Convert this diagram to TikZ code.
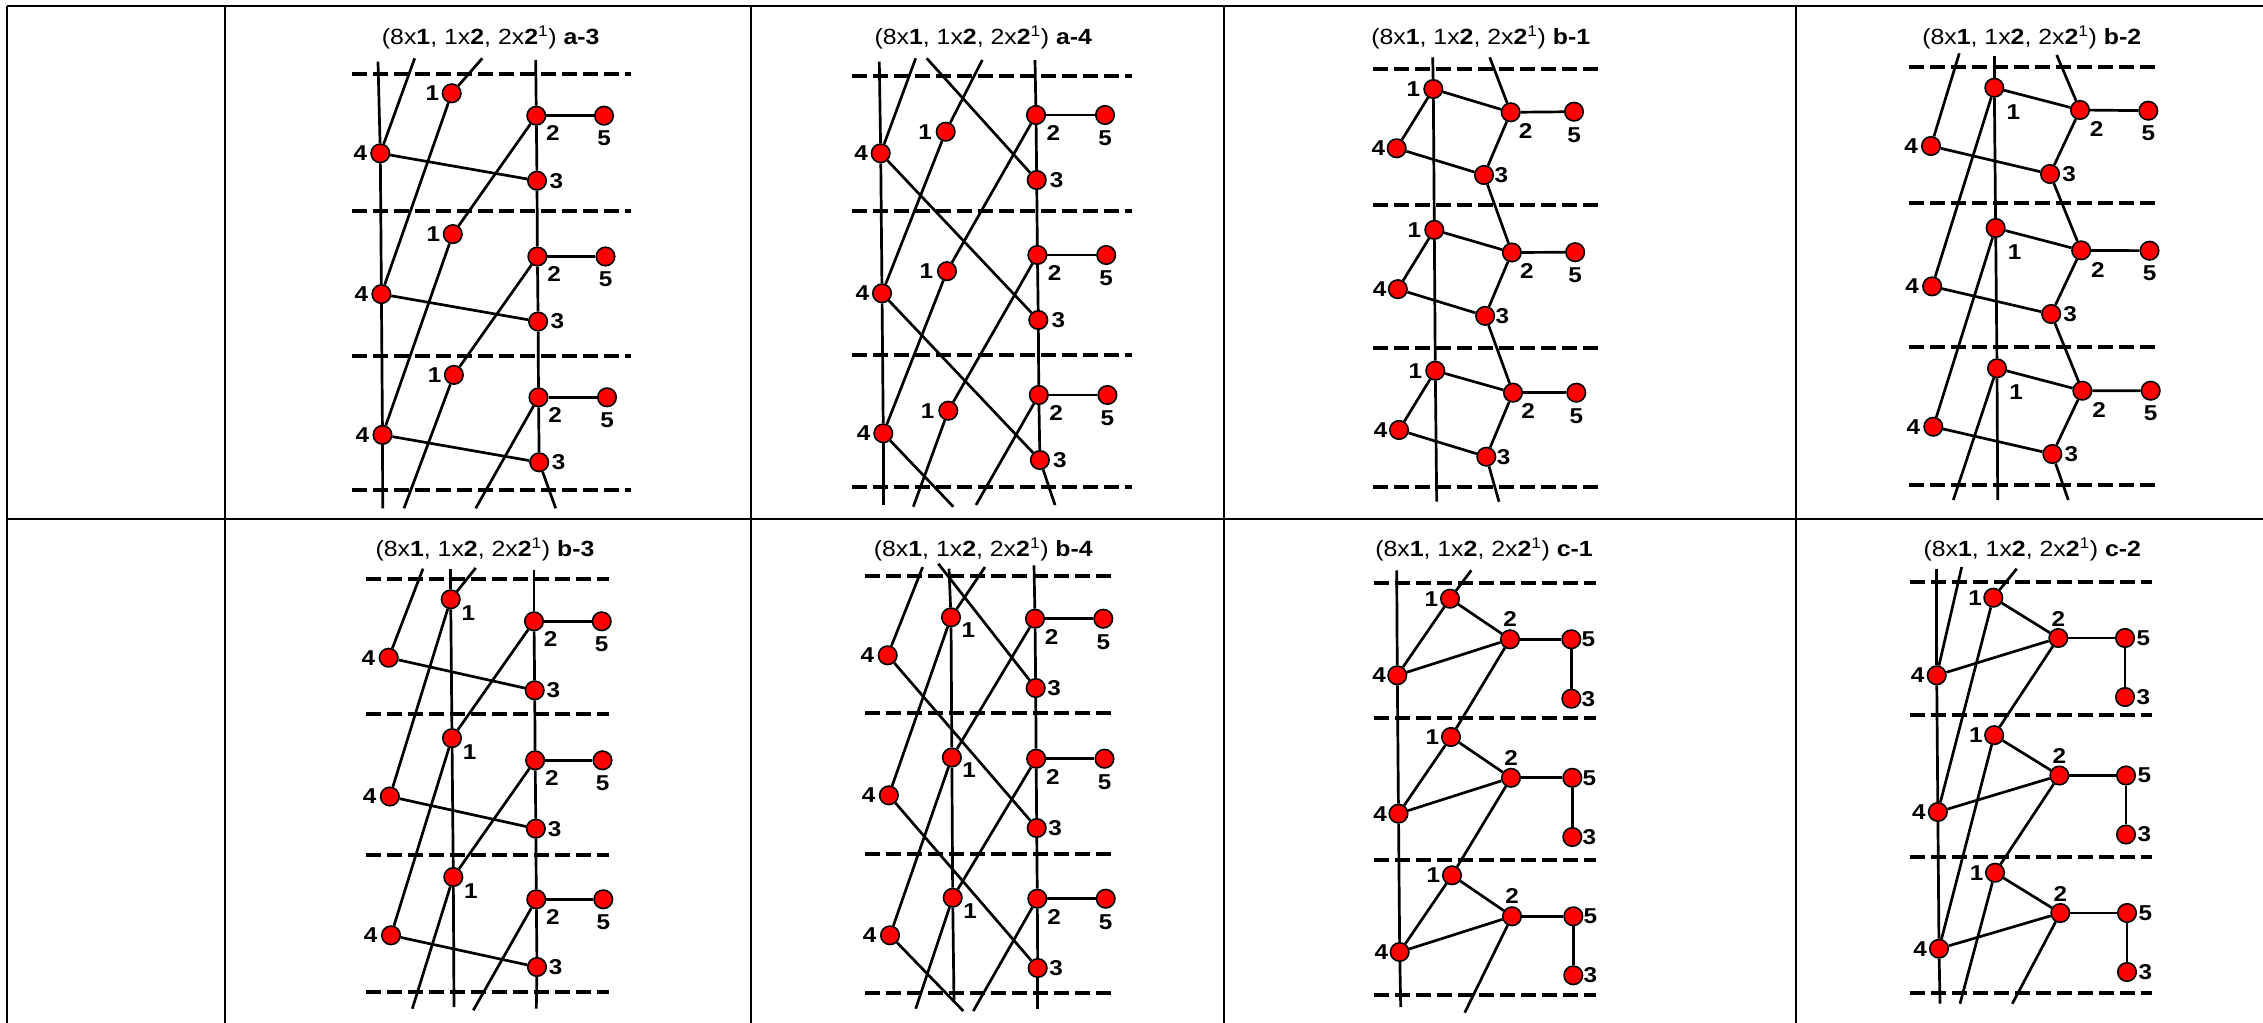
\documentclass[tikz,border=0pt]{standalone}
\usepackage{fontspec}
\setmainfont{Liberation Sans}
\usetikzlibrary{calc}
\pgfdeclarelayer{bg}
\pgfsetlayers{bg,main}
\newcommand\hs[1]{\scalebox{1.13}[1]{#1}}
\newcommand\ttl[1]{\hs{(8x\textbf{1}, 1x\textbf{2}, 2x\textbf{2}\textsuperscript{1}) \textbf{#1}}}
\newcommand\mkcol[6]{\foreach \k in {1,2,3}{\node[vtx] (#1-#2-\k) at ({#3+#5*(\k-1)},{#4+#6*(\k-1)}) {};}}
\newcommand\lbl[4]{\foreach \k in {1,2,3}{\node[lbl] at ($(#1-#2-\k)+(#3,#4)$) {\hs{#2}};}}
\newcommand\sm[3]{\foreach \k in {1,2,3}{\draw[bond] (#1-#2-\k) -- (#1-#3-\k);}}
\newcommand\nx[3]{\foreach \k/\j in {1/2,2/3}{\draw[bond] (#1-#2-\k) -- (#1-#3-\j);}}
\newcommand\stb[4]{\coordinate (#2) at (#3,#4); \draw[bond] (#1) -- (#2);}
\newcommand\dsh[4]{\foreach \yy in {#4}{\draw[dsh] (#2,\yy) -- (#3,\yy);}}
\begin{document}
\begin{tikzpicture}[x=1pt,y=-1pt,
  vtx/.style={circle,fill=red,draw=black,line width=1.6pt,minimum size=18.5pt,inner sep=0pt},
  lbl/.style={font=\fontsize{21.5}{22}\selectfont\bfseries,inner sep=0pt},
  ttlst/.style={font=\fontsize{22}{24}\selectfont,inner sep=0pt},
  bond/.style={line width=2.7pt},
  dsh/.style={line width=3.8pt,dash pattern=on 15pt off 6pt},
  tbl/.style={line width=2pt}]
\useasboundingbox (0,0) rectangle (2263,1023);
\begin{pgfonlayer}{bg}
\fill[white] (0,0) rectangle (2263,1023);
\end{pgfonlayer}
% table
\draw[tbl] (7,6) -- (2263,6);
\draw[tbl] (7,518.7) -- (2263,518.7);
\foreach \xx in {7,224.5,751,1223.5,1795.8}{\draw[tbl] (\xx,6) -- (\xx,1023);}
% titles
\node[ttlst] (TA) at (490.7,37.3) {\ttl{a-3}};
\node[ttlst] (TB) at (983.3,37.3) {\ttl{a-4}};
\node[ttlst] (TC) at (1480.7,37.3) {\ttl{b-1}};
\node[ttlst] (TD) at (2031.7,37.3) {\ttl{b-2}};
\node[ttlst] (TE) at (485,549.3) {\ttl{b-3}};
\node[ttlst] (TF) at (983.3,549.3) {\ttl{b-4}};
\node[ttlst] (TG) at (1484,549.3) {\ttl{c-1}};
\node[ttlst] (TH) at (2032.3,549.3) {\ttl{c-2}};
% ---------- A: a-3
\mkcol{A}{1}{451.7}{93.3}{1.1}{140.8}
\mkcol{A}{2}{536.3}{115.7}{1.1}{140.8}
\mkcol{A}{3}{537}{180.7}{1.1}{140.8}
\mkcol{A}{4}{380.3}{153.3}{1.1}{140.8}
\mkcol{A}{5}{604}{115.7}{1.5}{140.8}
\lbl{A}{1}{-19.3}{0}\lbl{A}{2}{16.7}{17.7}\lbl{A}{5}{0}{22.7}\lbl{A}{4}{-20}{0}\lbl{A}{3}{19.3}{0}
\begin{pgfonlayer}{bg}
\dsh{A}{351.7}{631.3}{74,210.7,356,490}
\sm{A}{4}{3}\sm{A}{2}{5}\sm{A}{2}{3}
\nx{A}{4}{4}\nx{A}{1}{4}\nx{A}{2}{1}\nx{A}{3}{2}
\stb{A-4-1}{A-t1}{378}{61.7}\stb{A-4-1}{A-t2}{414.7}{58.3}\stb{A-1-1}{A-t3}{482.3}{58.3}\stb{A-2-1}{A-t4}{535.7}{60}
\stb{A-4-3}{A-b1}{382.7}{508.3}\stb{A-1-3}{A-b2}{404}{508.3}\stb{A-2-3}{A-b3}{475.7}{508.3}\stb{A-3-3}{A-b4}{555.7}{508.3}
\end{pgfonlayer}
% ---------- B: a-4
\mkcol{B}{1}{945.7}{131.7}{1.3}{139.5}
\mkcol{B}{2}{1036}{115}{1.4}{140}
\mkcol{B}{3}{1036.7}{180}{1.6}{140}
\mkcol{B}{4}{880.7}{153.3}{1.3}{140}
\mkcol{B}{5}{1105}{115}{1.2}{140}
\lbl{B}{1}{-20.7}{0}\lbl{B}{2}{17.3}{18.3}\lbl{B}{5}{0}{23.3}\lbl{B}{4}{-19.7}{0}\lbl{B}{3}{20}{0}
\begin{pgfonlayer}{bg}
\dsh{B}{851.7}{1131.7}{76,210.7,355,487.3}
\sm{B}{2}{5}\sm{B}{2}{3}
\nx{B}{4}{4}\nx{B}{4}{3}\nx{B}{1}{4}\nx{B}{2}{1}\nx{B}{3}{2}
\stb{B-4-1}{B-t1}{879.3}{61.7}\stb{B-4-1}{B-t2}{915.7}{58.3}\stb{B-3-1}{B-t3}{926.7}{58.3}\stb{B-1-1}{B-t4}{982.3}{60}\stb{B-2-1}{B-t5}{1035}{60}
\stb{B-4-3}{B-b1}{883.3}{505}\stb{B-4-3}{B-b2}{953.3}{506.7}\stb{B-1-3}{B-b3}{913.3}{506.7}\stb{B-2-3}{B-b4}{976}{505}\stb{B-3-3}{B-b5}{1055}{505}
\end{pgfonlayer}
% ---------- C: b-1
\mkcol{C}{1}{1433.3}{89}{1.0}{140.85}
\mkcol{C}{2}{1510.7}{112.3}{1.15}{140.2}
\mkcol{C}{3}{1484}{175}{1.15}{140.85}
\mkcol{C}{4}{1396.7}{148.3}{1.15}{140.85}
\mkcol{C}{5}{1574}{111.7}{1.15}{140.5}
\lbl{C}{1}{-20}{0}\lbl{C}{2}{15}{18.3}\lbl{C}{5}{0}{23.3}\lbl{C}{4}{-18.3}{0}\lbl{C}{3}{17.3}{0}
\begin{pgfonlayer}{bg}
\dsh{C}{1373}{1599.7}{69,205,348.3,487.3}
\sm{C}{1}{2}\sm{C}{1}{4}\sm{C}{4}{3}\sm{C}{3}{2}\sm{C}{2}{5}
\nx{C}{1}{1}\nx{C}{3}{2}
\stb{C-1-1}{C-t1}{1432.7}{57.3}\stb{C-2-1}{C-t2}{1489.7}{57.3}
\stb{C-1-3}{C-b1}{1436.7}{501.7}\stb{C-3-3}{C-b2}{1499}{501.7}
\end{pgfonlayer}
% ---------- D: b-2
\mkcol{D}{1}{1994.3}{87.7}{1.35}{140.3}
\mkcol{D}{2}{2080}{110}{1.15}{140.35}
\mkcol{D}{3}{2050}{174}{1.15}{140}
\mkcol{D}{4}{1931}{146}{1.15}{140.35}
\mkcol{D}{5}{2148.3}{110.7}{1.2}{140}
\lbl{D}{1}{19}{24}\lbl{D}{2}{16.7}{19.3}\lbl{D}{5}{0}{22.7}\lbl{D}{4}{-20}{0}\lbl{D}{3}{19}{0}
\begin{pgfonlayer}{bg}
\dsh{D}{1909.3}{2155.7}{67.3,203.3,346.7,485}
\sm{D}{1}{2}\sm{D}{4}{3}\sm{D}{3}{2}\sm{D}{2}{5}
\nx{D}{1}{1}\nx{D}{1}{4}\nx{D}{3}{2}
\stb{D-1-1}{D-t1}{1994.3}{56}\stb{D-4-1}{D-t2}{1959.3}{53.3}\stb{D-2-1}{D-t3}{2056.7}{55}
\stb{D-1-3}{D-b1}{1997.7}{500}\stb{D-1-3}{D-b2}{1953.3}{500}\stb{D-3-3}{D-b3}{2068.3}{500}
\end{pgfonlayer}
% ---------- E: b-3
\mkcol{E}{1}{450.7}{599.3}{1.3}{138.85}
\mkcol{E}{2}{534}{621.3}{1.15}{139}
\mkcol{E}{3}{534.7}{690.3}{1.15}{138.35}
\mkcol{E}{4}{388.7}{657.7}{1.15}{138.8}
\mkcol{E}{5}{601.7}{621.3}{0.8}{139}
\lbl{E}{1}{17.7}{13.7}\lbl{E}{2}{16.7}{17.3}\lbl{E}{5}{0}{23}\lbl{E}{4}{-20.3}{0}\lbl{E}{3}{18.7}{0}
\begin{pgfonlayer}{bg}
\dsh{E}{366.3}{609}{578.7,713.7,854.7,992}
\sm{E}{2}{3}\sm{E}{4}{3}\sm{E}{2}{5}
\nx{E}{1}{1}\nx{E}{1}{4}\nx{E}{2}{1}\nx{E}{3}{2}
\stb{E-1-1}{E-t1}{450.7}{568.7}\stb{E-4-1}{E-t2}{423}{568.7}\stb{E-1-1}{E-t3}{475.7}{568}\stb{E-2-1}{E-t4}{534}{570.3}
\stb{E-1-3}{E-b1}{454}{1007}\stb{E-1-3}{E-b2}{412.3}{1008.7}\stb{E-2-3}{E-b3}{473.3}{1010.3}\stb{E-3-3}{E-b4}{536.3}{1008.7}
\end{pgfonlayer}
% ---------- F: b-4
\mkcol{F}{1}{951}{617.3}{0.85}{140.2}
\mkcol{F}{2}{1035}{618.7}{1.15}{140}
\mkcol{F}{3}{1035.7}{688}{1}{140}
\mkcol{F}{4}{887.7}{655.3}{1.15}{140}
\mkcol{F}{5}{1103.3}{618.7}{1.2}{140}
\lbl{F}{1}{17.3}{13}\lbl{F}{2}{16.7}{18.3}\lbl{F}{5}{0}{23.3}\lbl{F}{4}{-20.3}{0}\lbl{F}{3}{18.3}{0}
\begin{pgfonlayer}{bg}
\dsh{F}{865}{1110.7}{576,712.7,854.3,993}
\sm{F}{2}{3}\sm{F}{2}{5}
\nx{F}{1}{1}\nx{F}{1}{4}\nx{F}{2}{1}\nx{F}{4}{3}\nx{F}{3}{2}
\stb{F-1-1}{F-t1}{949}{568.7}\stb{F-4-1}{F-t2}{922.7}{567}\stb{F-1-1}{F-t3}{985}{567}\stb{F-3-1}{F-t4}{938.3}{563.7}\stb{F-2-1}{F-t5}{1034}{565.3}
\stb{F-1-3}{F-b1}{954}{1002}\stb{F-1-3}{F-b2}{915.7}{1008.7}\stb{F-2-3}{F-b3}{973.3}{1011}\stb{F-4-3}{F-b4}{963.3}{1011}\stb{F-3-3}{F-b5}{1037.7}{1008.7}
\end{pgfonlayer}
% ---------- G: c-1
\mkcol{G}{1}{1450}{598.7}{1}{138.3}
\mkcol{G}{2}{1510}{639.3}{1}{138.5}
\mkcol{G}{3}{1571.3}{698.7}{1}{138.3}
\mkcol{G}{4}{1397.3}{675.3}{1.2}{138.35}
\mkcol{G}{5}{1571.3}{639.3}{1}{138.5}
\lbl{G}{1}{-18.7}{0}\lbl{G}{2}{0}{-20}\lbl{G}{5}{17}{0}\lbl{G}{3}{17}{0}\lbl{G}{4}{-18.3}{0}
\begin{pgfonlayer}{bg}
\dsh{G}{1374}{1595.7}{583,717.7,859.7,995.3}
\sm{G}{4}{1}\sm{G}{4}{2}\sm{G}{1}{2}\sm{G}{2}{5}\sm{G}{5}{3}
\nx{G}{4}{4}\nx{G}{2}{1}
\stb{G-4-1}{G-t1}{1396.7}{570.3}\stb{G-1-1}{G-t2}{1471.3}{570.3}
\stb{G-4-3}{G-b1}{1400.7}{1007}\stb{G-2-3}{G-b2}{1464.7}{1012.7}
\end{pgfonlayer}
% ---------- H: c-2
\mkcol{H}{1}{1993.3}{597.7}{0.85}{137.5}
\mkcol{H}{2}{2058.3}{638}{1}{137.5}
\mkcol{H}{3}{2125}{697}{1}{137.5}
\mkcol{H}{4}{1936.7}{675.3}{1.15}{136.7}
\mkcol{H}{5}{2125}{638}{1}{137.5}
\lbl{H}{1}{-18.3}{0}\lbl{H}{2}{0}{-19.3}\lbl{H}{5}{18.3}{0}\lbl{H}{3}{18.3}{0}\lbl{H}{4}{-19}{0}
\begin{pgfonlayer}{bg}
\dsh{H}{1910}{2151.7}{582,715.3,857,992.7}
\sm{H}{4}{2}\sm{H}{1}{2}\sm{H}{2}{5}\sm{H}{5}{3}
\nx{H}{4}{4}\nx{H}{1}{4}\nx{H}{2}{1}
\stb{H-4-1}{H-t1}{1936.7}{569.3}\stb{H-4-1}{H-t2}{1961.7}{567}\stb{H-1-1}{H-t3}{2016.7}{568.7}
\stb{H-4-3}{H-b1}{1940}{1003.7}\stb{H-1-3}{H-b2}{1960}{1003.7}\stb{H-2-3}{H-b3}{2012.3}{1003.7}
\end{pgfonlayer}
\end{tikzpicture}
\end{document}
